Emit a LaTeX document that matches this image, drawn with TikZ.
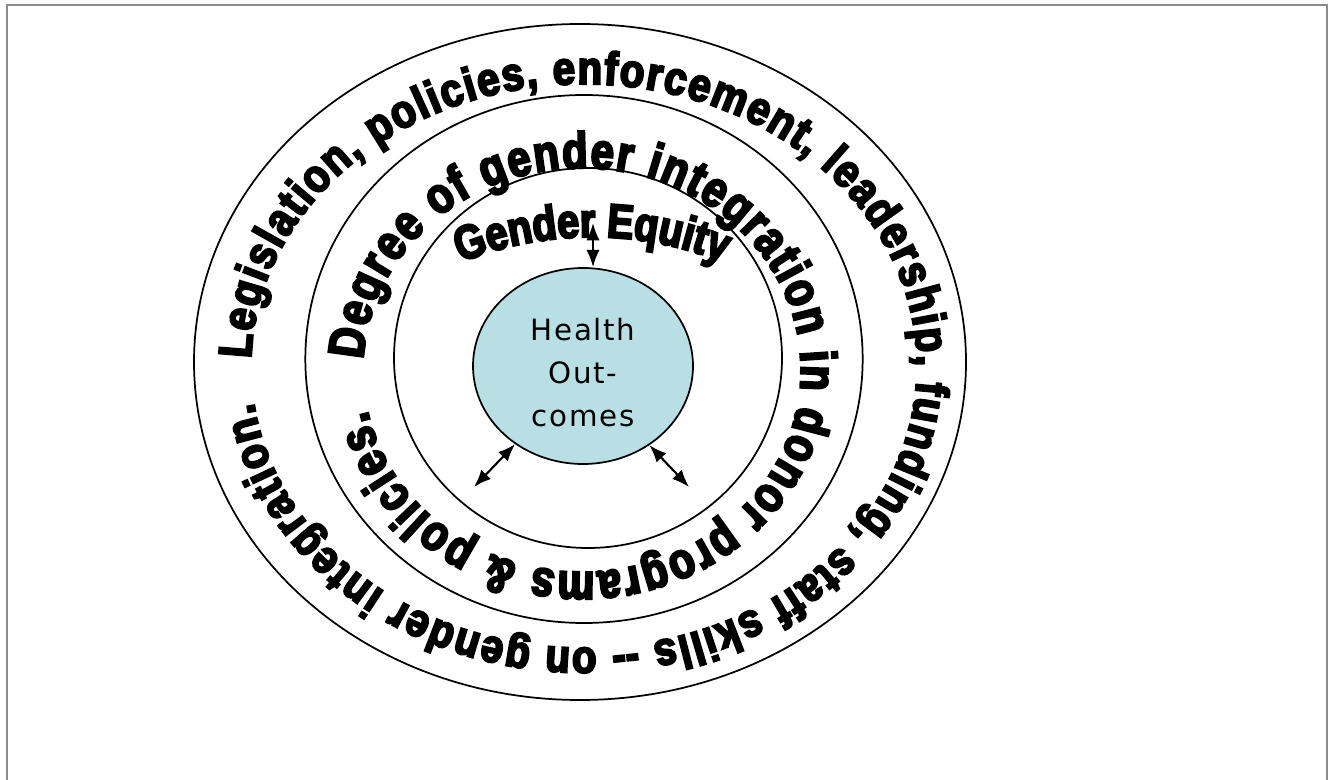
\documentclass[tikz,border=0pt]{standalone}
\usepackage{fontspec}
\usepackage{xcolor}
\usepackage{tikz}
\usetikzlibrary{shapes,arrows.meta,positioning,decorations.text}

\newfontfamily\labelfont[LetterSpace=6]{DejaVu Sans}
\newfontfamily\outerfont[FakeBold=4.5,FakeStretch=0.86]{Liberation Sans}
\newfontfamily\ringfont[FakeBold=4.5,FakeStretch=0.82]{Liberation Sans}
\newcommand{\outerstyle}{\outerfont\bfseries\fontsize{35}{35}\selectfont}
\newcommand{\midstyle}{\ringfont\bfseries\fontsize{38}{38}\selectfont}
\newcommand{\eqstyle}{\ringfont\bfseries\fontsize{36}{36}\selectfont}

\definecolor{healthblue}{RGB}{184,224,228}
\definecolor{framegray}{RGB}{140,140,140}

\tikzset{
  ring/.style={draw, ellipse, line width=1.3pt, inner sep=0pt},
  twoway/.style={{Latex[length=13pt,width=10pt]}-{Latex[length=13pt,width=10pt]}, line width=1.6pt},
  ringtext/.style={decorate, decoration={text along path, text align={fit to path}, text={#1}}},
  captext/.style={decorate, decoration={text along path, text align=center, text={#1}}}
}

\begin{document}
\begin{tikzpicture}[x=0.75pt, y=-0.75pt]
    \useasboundingbox (0,0) rectangle (1334,780);
    % Page frame
    \draw[framegray, line width=1.5pt] (7,5) rectangle (1327,800);

    % Rings
    \node[ring, minimum width=579pt, minimum height=507pt] (outer) at (580,362) {};
    \node[ring, minimum width=418pt, minimum height=396pt] (middle) at (584,359) {};
    \node[ring, minimum width=291pt, minimum height=285pt] (inner) at (588,358) {};

    % Centre
    \node[ring, fill=healthblue, minimum width=165pt, minimum height=147pt] (health) at (583,366) {};
    \node[align=center, font=\labelfont\fontsize{22}{32}\selectfont] (healthtext)
        at ([yshift=-5pt]health.center) {Health\\Out-\\comes};

    % Curved captions
    \path[ringtext={|\outerstyle|Legislation, policies, enforcement, leadership, funding, staff skills {-{}-} on gender integration.}]
        ([shift={(584,366)}]181.5:333 and 282) arc[start angle=181.5, end angle=532.5, x radius=333, y radius=282];
    \path[ringtext={|\midstyle|Degree of gender integration in donor programs {\&} policies.}]
        ([shift={(582,370)}]183:219 and 202) arc[start angle=183, end angle=528.5, x radius=219, y radius=202];
    \path[captext={|\eqstyle|Gender Equity}]
        ([shift={(592,587)}]240:350) arc[start angle=240, end angle=300, radius=350];

    % Links to the outcomes
    \coordinate (eqtip) at (593,223);
    \coordinate (lefttip) at (474,487);
    \coordinate (righttip) at (689,487);
    \draw[twoway] (eqtip) -- (eqtip |- health.north);
    \draw[twoway] (health.229) -- (lefttip);
    \draw[twoway] (health.310) -- (righttip);
\end{tikzpicture}
\end{document}
